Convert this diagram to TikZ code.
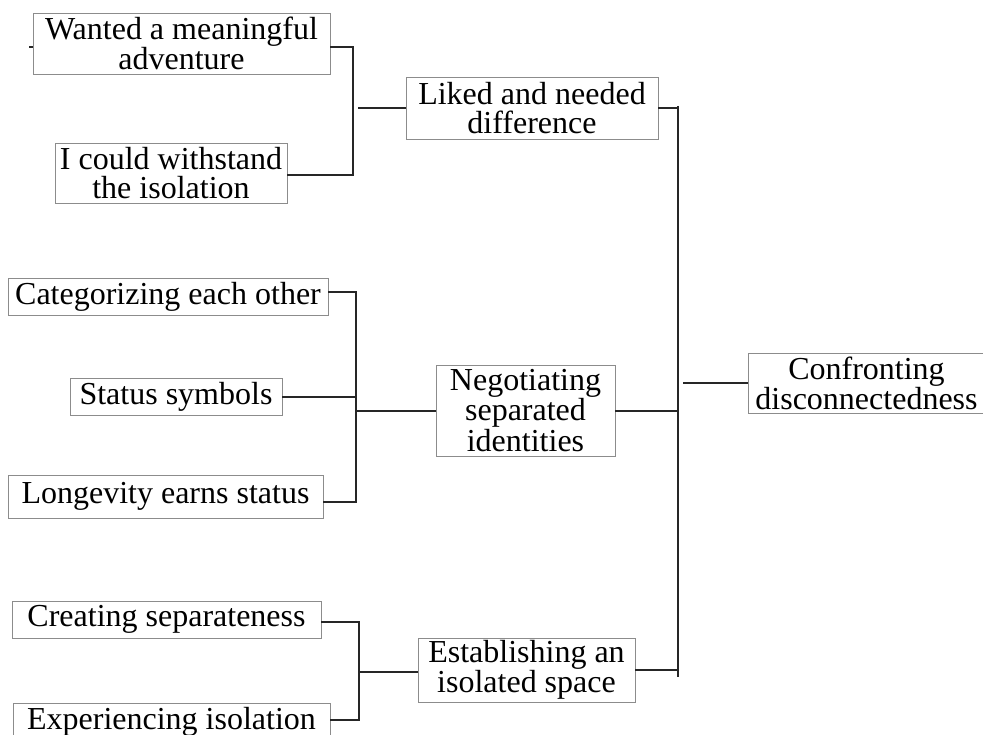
\documentclass[tikz,border=0pt]{standalone}
\usepackage{fontspec}
\setmainfont{Liberation Serif}
\begin{document}
\begin{tikzpicture}[x=1pt,y=-1pt,
  lbl/.style={draw=black!45, line width=0.9pt, fill=white, inner sep=0pt, align=center,
    font=\fontsize{32}{27}\selectfont},
  loose/.style={font=\fontsize{32}{29}\selectfont},
  conn/.style={draw=black!85, line width=1.1pt}]
\useasboundingbox (0,0) rectangle (983,735);
\clip (0,0) rectangle (983,735);
% boxes (center x, center y, width, height)
\node[lbl, minimum width=297pt, minimum height=61pt] (want) at (181.5,43.5) {Wanted a meaningful\\adventure};
\node[lbl, loose, minimum width=232pt, minimum height=60pt] (could) at (171,173) {I could withstand\\the isolation};
\node[lbl, loose, minimum width=252pt, minimum height=62pt] (liked) at (532,108) {Liked and needed\\difference};
\node[lbl, minimum width=320pt, minimum height=37pt] (cat) at (168,296.5) {Categorizing each other};
\node[lbl, minimum width=212pt, minimum height=37pt] (stat) at (176,396.5) {Status symbols};
\node[lbl, minimum width=315pt, minimum height=43pt] (long) at (165.5,496.5) {Longevity earns status};
\node[lbl, minimum width=179pt, minimum height=91pt] (neg) at (525.5,410.5) {Negotiating\\separated\\identities};
\node[lbl, minimum width=237pt, minimum height=60pt] (conf) at (866.5,383) {Confronting\\disconnectedness};
\node[lbl, minimum width=309pt, minimum height=37pt] (crea) at (166.5,619.5) {Creating separateness};
\node[lbl, minimum width=317pt, minimum height=37pt] (exp) at (171.5,721.5) {Experiencing isolation};
\node[lbl, minimum width=217pt, minimum height=64pt] (est) at (526.5,670) {Establishing an\\isolated space};
% junction coordinates
\coordinate (jA1) at (353,47);
\coordinate (jA2) at (353,175);
\coordinate (jA3) at (358,108);
\coordinate (jB1) at (356,292);
\coordinate (jB2) at (356,397);
\coordinate (jB3) at (356,502);
\coordinate (jB4) at (356,411);
\coordinate (jC1) at (359,622);
\coordinate (jC2) at (359,720);
\coordinate (jC3) at (359,672);
\coordinate (tTop) at (678,106);
\coordinate (tBot) at (678,677);
\coordinate (tL) at (678,108);
\coordinate (tN) at (678,411);
\coordinate (tE) at (678,670);
\coordinate (tC) at (683,383);
\coordinate (stub) at (29,47);
% top group
\draw[conn] (stub) -- (want.west |- stub);
\draw[conn] (want.east |- jA1) -- (jA1) -- (jA2) -- (could.east |- jA2);
\draw[conn] (jA3) -- (liked.west |- jA3);
% middle group
\draw[conn] (cat.east |- jB1) -- (jB1) -- (jB3) -- (long.east |- jB3);
\draw[conn] (stat.east |- jB2) -- (jB2);
\draw[conn] (jB4) -- (neg.west |- jB4);
% bottom group
\draw[conn] (crea.east |- jC1) -- (jC1) -- (jC2) -- (exp.east |- jC2);
\draw[conn] (jC3) -- (est.west |- jC3);
% trunk
\draw[conn] (tTop) -- (tBot);
\draw[conn] (liked.east |- tL) -- (tL);
\draw[conn] (neg.east |- tN) -- (tN);
\draw[conn] (est.east |- tE) -- (tE);
\draw[conn] (tC) -- (conf.west |- tC);
\end{tikzpicture}
\end{document}
